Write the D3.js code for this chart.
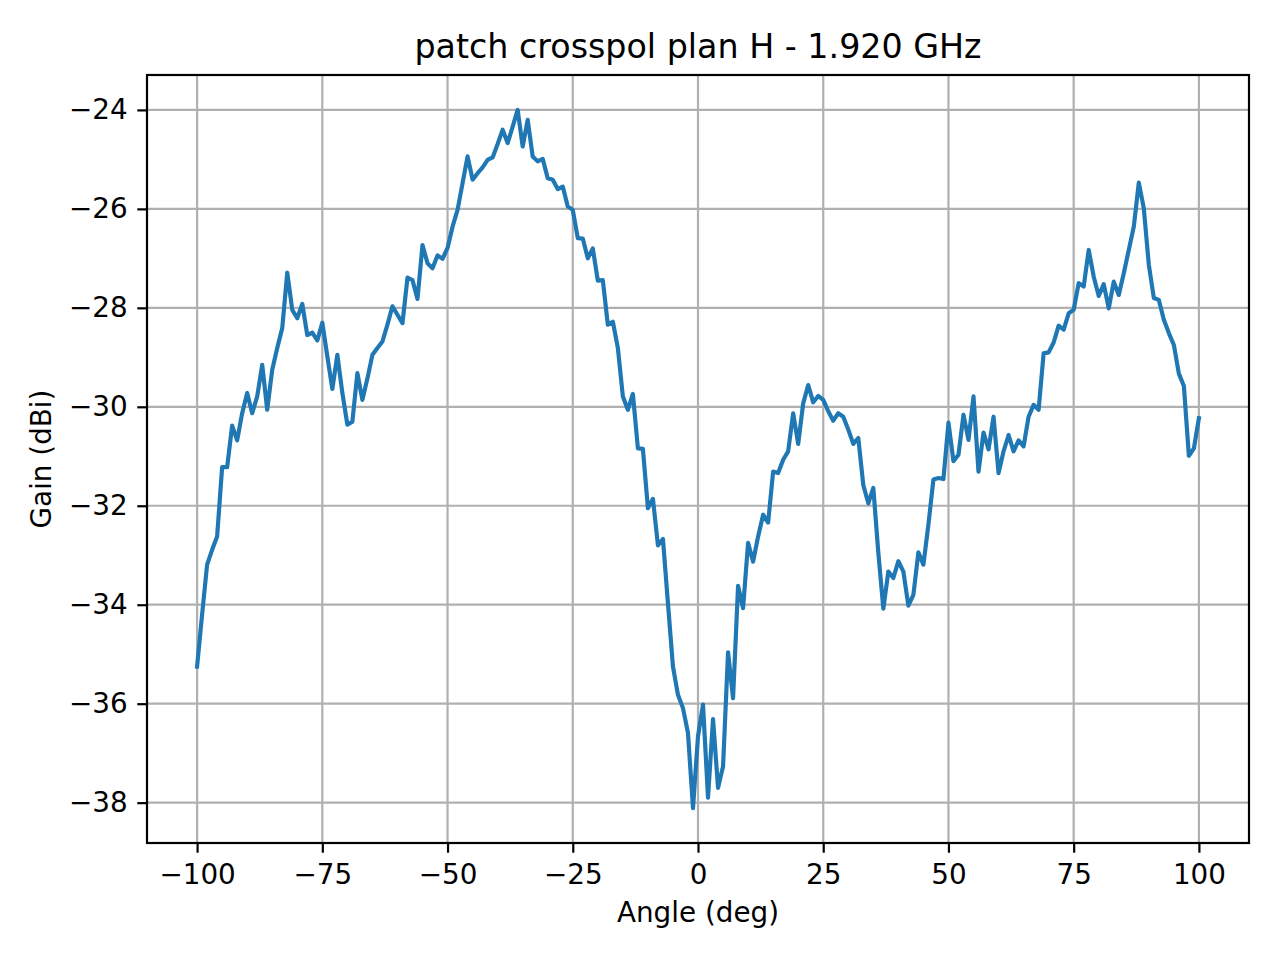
<!DOCTYPE html>
<html lang="en">
<head>
<meta charset="UTF-8">
<title>patch crosspol plan H - 1.920 GHz</title>
<script src="https://d3js.org/d3.v7.min.js"></script>
<style>
  body { margin: 0; background: #fff; font-family: "DejaVu Sans", sans-serif; }
  svg { display: block; }
  .axis path { display: none; }
  .axis line { stroke: #000; stroke-width: 2.2px; }
  .axis text { fill: #000; font-size: 27.8px; font-family: "DejaVu Sans", sans-serif; }
  .grid line { stroke: #b0b0b0; stroke-width: 2.2px; }
</style>
</head>
<body>
<svg width="1280" height="960"></svg>
<script>
// measured angles (deg), one sample per degree
const angles = d3.range(-100, 101);

// cross-pol gain (dBi), -100 .. 100 deg
const gain = [
  -35.25, -34.20, -33.19, -32.89, -32.62, -31.22, -31.22, -30.38, -30.68, -30.13,
  -29.72, -30.13, -29.79, -29.15, -30.06, -29.25, -28.81, -28.41, -27.29, -28.04,
  -28.21, -27.92, -28.55, -28.50, -28.66, -28.30, -28.98, -29.64, -28.95, -29.72,
  -30.36, -30.30, -29.32, -29.86, -29.43, -28.95, -28.81, -28.68, -28.34, -27.97,
  -28.14, -28.31, -27.39, -27.44, -27.82, -26.73, -27.10, -27.20, -26.94, -27.01,
  -26.79, -26.36, -26.02, -25.48, -24.94, -25.41, -25.28, -25.16, -25.01, -24.96,
  -24.69, -24.40, -24.67, -24.34, -24.00, -24.74, -24.20, -24.94, -25.04, -24.99,
  -25.38, -25.41, -25.60, -25.55, -25.95, -26.02, -26.59, -26.60, -27.00, -26.80,
  -27.45, -27.44, -28.34, -28.28, -28.81, -29.79, -30.06, -29.74, -30.84, -30.85,
  -32.05, -31.86, -32.80, -32.67, -33.97, -35.25, -35.82, -36.09, -36.59, -38.11,
  -36.66, -36.02, -37.90, -36.31, -37.70, -37.27, -34.96, -35.89, -33.62, -34.07,
  -32.75, -33.13, -32.62, -32.18, -32.34, -31.31, -31.34, -31.07, -30.90, -30.13,
  -30.75, -29.93, -29.56, -29.91, -29.78, -29.86, -30.09, -30.28, -30.13, -30.20,
  -30.46, -30.75, -30.63, -31.58, -31.95, -31.64, -32.95, -34.08, -33.33, -33.46,
  -33.12, -33.33, -34.02, -33.80, -32.94, -33.19, -32.38, -31.47, -31.44, -31.46,
  -30.32, -31.10, -30.97, -30.16, -30.67, -29.79, -31.31, -30.52, -30.86, -30.20,
  -31.34, -30.90, -30.57, -30.90, -30.68, -30.80, -30.20, -29.96, -30.06, -28.92,
  -28.90, -28.70, -28.36, -28.44, -28.11, -28.04, -27.50, -27.57, -26.83, -27.37,
  -27.76, -27.52, -28.01, -27.47, -27.74, -27.30, -26.83, -26.36, -25.47, -25.99,
  -27.13, -27.80, -27.84, -28.24, -28.51, -28.75, -29.33, -29.58, -30.99, -30.84,
  -30.23
];

const xTicks = [-100, -75, -50, -25, 0, 25, 50, 75, 100];
const yTicks = [-38, -36, -34, -32, -30, -28, -26, -24];

const data = angles.map((a, i) => ({ angle: a, gain: gain[i] }));

const svg = d3.select('svg');
const margin = { top: 75, right: 31, bottom: 117, left: 147 };
const width = 1280 - margin.left - margin.right;
const height = 960 - margin.top - margin.bottom;
const g = svg.append('g').attr('transform', `translate(${margin.left},${margin.top})`);

// matplotlib style 5% margins around the data
const xExt = d3.extent(angles), yExt = d3.extent(gain);
const xPad = (xExt[1] - xExt[0]) * 0.05, yPad = (yExt[1] - yExt[0]) * 0.05;

const x = d3.scaleLinear().domain([xExt[0] - xPad, xExt[1] + xPad]).range([0, width]);
const y = d3.scaleLinear().domain([yExt[0] - yPad, yExt[1] + yPad]).range([height, 0]);

// grid
g.append('g').attr('class', 'grid')
  .selectAll('line').data(xTicks).enter().append('line')
  .attr('x1', d => x(d)).attr('x2', d => x(d))
  .attr('y1', 0).attr('y2', height);
g.append('g').attr('class', 'grid')
  .selectAll('line').data(yTicks).enter().append('line')
  .attr('x1', 0).attr('x2', width)
  .attr('y1', d => y(d)).attr('y2', d => y(d));

// curve
const line = d3.line().x(d => x(d.angle)).y(d => y(d.gain));
g.append('path').datum(data)
  .attr('fill', 'none')
  .attr('stroke', '#1f77b4')
  .attr('stroke-width', 4.17)
  .attr('stroke-linejoin', 'round')
  .attr('stroke-linecap', 'square')
  .attr('d', line);

// axes
g.append('g').attr('class', 'axis')
  .attr('transform', `translate(0,${height})`)
  .call(d3.axisBottom(x).tickValues(xTicks).tickSize(9.7).tickPadding(9.7).tickSizeOuter(0))
  .selectAll('text').attr('dy', '0.76em');

g.append('g').attr('class', 'axis')
  .call(d3.axisLeft(y).tickValues(yTicks).tickSize(9.7).tickPadding(9.7).tickSizeOuter(0));

// frame
g.append('rect')
  .attr('width', width).attr('height', height)
  .attr('fill', 'none').attr('stroke', '#000').attr('stroke-width', 2.2);

// title and labels
svg.append('text')
  .attr('x', margin.left + width / 2).attr('y', 58)
  .attr('text-anchor', 'middle')
  .style('font-size', '33.3px')
  .text('patch crosspol plan H - 1.920 GHz');

svg.append('text')
  .attr('x', margin.left + width / 2).attr('y', 922)
  .attr('text-anchor', 'middle')
  .style('font-size', '27.8px')
  .text('Angle (deg)');

svg.append('text')
  .attr('transform', `translate(51,${margin.top + height / 2}) rotate(-90)`)
  .attr('text-anchor', 'middle')
  .style('font-size', '27.8px')
  .text('Gain (dBi)');
</script>
</body>
</html>
